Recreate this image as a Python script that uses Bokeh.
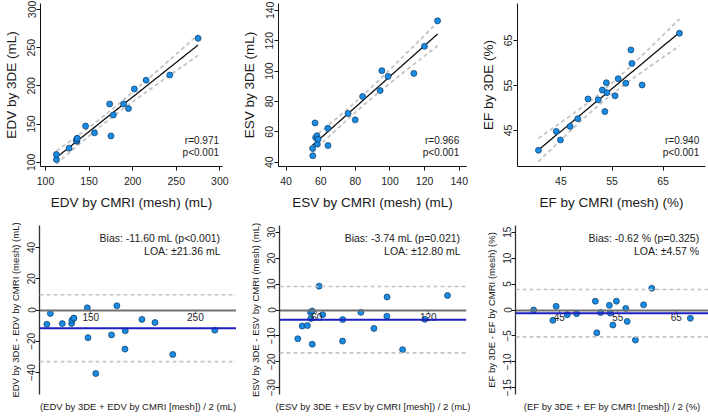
import numpy as np
from bokeh.plotting import figure
from bokeh.layouts import column, row
from bokeh.models import Range1d, FixedTicker, Span, Label, Title
from bokeh.embed import file_html
from bokeh.resources import INLINE

FONT = "Liberation Sans"

# ---------------- data ----------------
edv_cmri = [112.6, 112.5, 127.1, 136.0, 135.3, 136.3, 136.5, 146.0, 156.2,
            175.1, 177.8, 173.6, 189.6, 195.2, 201.9, 215.4, 242.6, 275.0]
edv_3de = [103.5, 110.3, 118.4, 127.4, 128.7, 131.0, 131.3, 147.4, 138.5,
           134.5, 161.9, 176.3, 176.3, 170.2, 195.9, 207.4, 214.2, 262.1]

esv_cmri = [55.4, 55.3, 56.7, 57.1, 57.8, 58.0, 58.5, 64.1, 64.2,
            75.8, 79.9, 84.2, 94.3, 95.3, 98.9, 113.8, 119.9, 127.5]
esv_3de = [44.3, 49.1, 65.9, 56.2, 57.4, 52.0, 55.2, 62.3, 51.0,
           72.1, 67.9, 83.3, 87.2, 100.3, 96.5, 98.5, 116.3, 133.1]

ef_cmri = [40.6, 44.1, 44.9, 46.8, 48.3, 50.3, 52.3, 53.1, 53.6,
           53.9, 54.0, 55.6, 56.2, 57.7, 58.7, 58.9, 60.9, 68.2]
ef_3de = [40.6, 44.8, 42.9, 45.9, 47.6, 52.0, 51.8, 54.0, 49.2,
          55.6, 53.4, 52.7, 56.5, 55.5, 62.9, 59.9, 55.1, 66.6]

edv_ticks = [100, 150, 200, 250, 300]
esv_ticks = [40, 60, 80, 100, 120, 140]
ef_ticks = [45, 55, 65]
edv_ba_xticks = [150, 250]
edv_ba_yticks = [-40, -20, 0, 20, 40]
esv_ba_xticks = [60, 120]
esv_ba_yticks = [-30, -20, -10, 0, 10, 20, 30]
ef_ba_xticks = [45, 55, 65]
ef_ba_yticks = [-15, -10, -5, 0, 5, 10, 15]

edv_r, edv_p = "r=0.971", "p<0.001"
esv_r, esv_p = "r=0.966", "p<0.001"
ef_r, ef_p = "r=0.940", "p<0.001"

edv_bias, edv_loa = -11.60, 21.36
esv_bias, esv_loa = -3.74, 12.80
ef_bias, ef_loa = -0.62, 4.57
edv_bias_txt, edv_loa_txt = "Bias: -11.60 mL (p<0.001)", "LOA: \u00b121.36 mL"
esv_bias_txt, esv_loa_txt = "Bias: -3.74 mL (p=0.021)", "LOA: \u00b112.80 mL"
ef_bias_txt, ef_loa_txt = "Bias: -0.62 % (p=0.325)", "LOA: \u00b14.57 %"

T_CRIT = 2.12  # t(0.975, n-2)

# ---------------- styling ----------------
DOT_FILL = "#1a8be3"
DOT_LINE = "#0d3b66"
BAND = "#c4c4c4"
TXT = "#1a1a1a"
TICK_TXT = "#262626"

TOP_H, BOT_H = 212, 206
TOP_T, TOP_B = 3, 42
BOT_T, BOT_B = 13, 24


def base_axes(p, label_size, tick_size, lab_std, tick_std):
    for ax in (p.xaxis[0], p.yaxis[0]):
        ax.axis_label_text_font = FONT
        ax.axis_label_text_font_style = "normal"
        ax.axis_label_text_font_size = label_size
        ax.axis_label_text_color = TXT
        ax.major_label_text_font = FONT
        ax.major_label_text_font_size = tick_size
        ax.major_label_text_color = TICK_TXT
        ax.minor_tick_line_color = None
        ax.major_tick_in = 0
        ax.major_tick_out = 4
        ax.axis_line_color = "#111111"
        ax.major_tick_line_color = "#111111"
    p.yaxis[0].major_label_orientation = "vertical"
    p.yaxis[0].axis_label_standoff = lab_std
    p.yaxis[0].major_label_standoff = tick_std
    p.xgrid.visible = False
    p.ygrid.visible = False
    p.outline_line_color = None
    p.background_fill_color = "white"
    p.border_fill_color = "white"


def frame_point(xr, yr, fw, fh, dx_right, dy_bottom):
    return (xr[1] - dx_right * (xr[1] - xr[0]) / fw,
            yr[0] + dy_bottom * (yr[1] - yr[0]) / fh)


def scatter_panel(x, y, xr, yr, ticks, xlabel, ylabel, rtxt, ptxt,
                  w, bl, br, dx):
    p = figure(width=w, height=TOP_H, min_border_left=bl, min_border_right=br,
               min_border_top=TOP_T, min_border_bottom=TOP_B,
               x_range=Range1d(*xr), y_range=Range1d(*yr),
               toolbar_location=None, output_backend="svg")
    p.xaxis.axis_label = xlabel
    p.yaxis.axis_label = ylabel
    p.xaxis.ticker = FixedTicker(ticks=ticks)
    p.yaxis.ticker = FixedTicker(ticks=ticks)
    base_axes(p, "13.5px", "10.5px", 6, 1)
    p.xaxis.axis_label_standoff = 7
    p.xaxis.major_label_standoff = 6

    x = np.array(x, float)
    y = np.array(y, float)
    n = len(x)
    slope, icpt = np.polyfit(x, y, 1)
    xs = np.linspace(x.min(), x.max(), 80)
    yh = icpt + slope * xs
    resid = y - (icpt + slope * x)
    s = np.sqrt((resid ** 2).sum() / (n - 2))
    se = s * np.sqrt(1.0 / n + (xs - x.mean()) ** 2 / ((x - x.mean()) ** 2).sum())
    p.line(xs, yh + T_CRIT * se, line_color=BAND, line_width=1.8, line_dash="4 3")
    p.line(xs, yh - T_CRIT * se, line_color=BAND, line_width=1.8, line_dash="4 3")
    p.line(xs, yh, line_color="#111111", line_width=1.3)
    p.scatter(x, y, size=6, fill_color=DOT_FILL, line_color=DOT_LINE, line_width=0.7)

    fw = w - bl - br
    fh = TOP_H - TOP_T - TOP_B
    for txt, dy in ((rtxt, 26.5), (ptxt, 14.5)):
        lx, ly = frame_point(xr, yr, fw, fh, dx, dy)
        p.add_layout(Label(x=lx, y=ly, text=txt, text_align="right", text_baseline="middle",
                           text_font=FONT, text_font_size="10px", text_color=TXT))
    return p


def ba_panel(a, b, xr, yr, xticks, yticks, bias, loa, btxt, ltxt,
             xlabel, ylabel, w, bl, br, dx):
    a = np.array(a, float)
    b = np.array(b, float)
    mean = (a + b) / 2.0
    diff = a - b
    p = figure(width=w, height=BOT_H, min_border_left=bl, min_border_right=br,
               min_border_top=BOT_T, min_border_bottom=BOT_B,
               x_range=Range1d(*xr), y_range=Range1d(*yr),
               toolbar_location=None, output_backend="svg")
    p.yaxis.axis_label = ylabel
    p.xaxis.ticker = FixedTicker(ticks=xticks)
    p.yaxis.ticker = FixedTicker(ticks=yticks)
    base_axes(p, "9.5px", "10px", 4, 0)
    xa = p.xaxis[0]
    xa.fixed_location = 0
    xa.axis_line_color = "#707070"
    xa.axis_line_width = 2.2
    xa.major_tick_line_color = "#707070"
    xa.major_tick_out = 3
    xa.major_label_standoff = 0
    p.yaxis[0].axis_line_color = "#333333"
    p.yaxis[0].axis_line_width = 1.3

    p.add_layout(Span(location=bias + loa, dimension="width", line_color=BAND,
                      line_width=1.6, line_dash="4 3"))
    p.add_layout(Span(location=bias - loa, dimension="width", line_color=BAND,
                      line_width=1.6, line_dash="4 3"))
    p.add_layout(Span(location=bias, dimension="width", line_color="#1f1fc4", line_width=2))
    p.scatter(mean, diff, size=6, fill_color=DOT_FILL, line_color=DOT_LINE, line_width=0.7)

    fw = w - bl - br
    fh = BOT_H - BOT_T - BOT_B
    for txt, dtop in ((btxt, 12.3), (ltxt, 25.7)):
        lx, ly = frame_point(xr, yr, fw, fh, dx, fh - dtop)
        p.add_layout(Label(x=lx, y=ly, text=txt, text_align="right", text_baseline="middle",
                           text_font=FONT, text_font_size="10.5px", text_color=TXT))
    # x-axis title below the frame (the axis itself sits at zero)
    p.add_layout(Title(text=xlabel, align="center", text_font=FONT,
                       text_font_size="9.5px", text_font_style="normal",
                       text_color=TXT, standoff=8, offset=0), "below")
    return p


p1 = scatter_panel(edv_cmri, edv_3de, (94.3, 303.0), (94.5, 307.7), edv_ticks,
                   "EDV by CMRI (mesh) (mL)", "EDV by 3DE (mL)", edv_r, edv_p,
                   236, 40, 14, 3.5)
p2 = scatter_panel(esv_cmri, esv_3de, (35.6, 144.2), (37.2, 144.5), esv_ticks,
                   "ESV by CMRI (mesh) (mL)", "ESV by 3DE (mL)", esv_r, esv_p,
                   236, 42, 6, 7.3)
p3 = scatter_panel(ef_cmri, ef_3de, (36.5, 73.3), (37.0, 73.2), ef_ticks,
                   "EF by CMRI (mesh) (%)", "EF by 3DE (%)", ef_r, ef_p,
                   236, 45, 3, 6.3)

p4 = ba_panel(edv_3de, edv_cmri, (101.0, 289.3), (-54.0, 54.0), edv_ba_xticks, edv_ba_yticks,
              edv_bias, edv_loa, edv_bias_txt, edv_loa_txt,
              "(EDV by 3DE + EDV by CMRI [mesh]) / 2 (mL)",
              "EDV by 3DE - EDV by CMRI (mesh) (mL)", 236, 39, 0, 16)
p5 = ba_panel(esv_3de, esv_cmri, (40.0, 140.5), (-32.6, 32.6), esv_ba_xticks, esv_ba_yticks,
              esv_bias, esv_loa, esv_bias_txt, esv_loa_txt,
              "(ESV by 3DE + ESV by CMRI [mesh]) / 2 (mL)",
              "ESV by 3DE - ESV by CMRI (mesh) (mL)", 236, 43, 6, 6)
p6 = ba_panel(ef_3de, ef_cmri, (37.5, 70.5), (-16.3, 16.3), ef_ba_xticks, ef_ba_yticks,
              ef_bias, ef_loa, ef_bias_txt, ef_loa_txt,
              "(EF by 3DE + EF by CMRI [mesh]) / 2 (%)",
              "EF by 3DE - EF by CMRI (mesh) (%)", 236, 43, 0, 9.3)

layout = column(row(p1, p2, p3), row(p4, p5, p6))
open("out.html", "w").write(file_html(layout, INLINE))
